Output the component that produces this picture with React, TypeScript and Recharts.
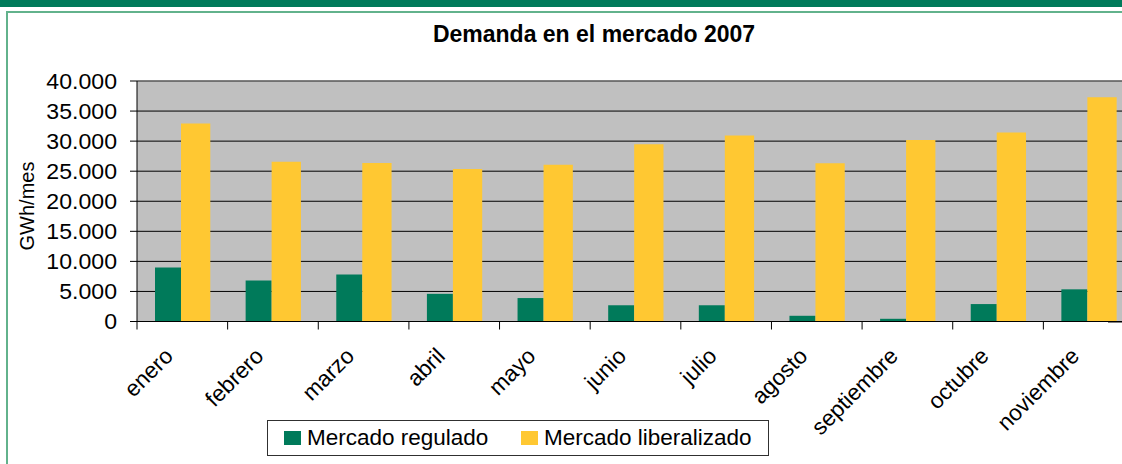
import React from 'react';
import { BarChart, Bar, XAxis, YAxis, CartesianGrid, Legend, ReferenceLine } from 'recharts';

const months = ['enero', 'febrero', 'marzo', 'abril', 'mayo', 'junio', 'julio', 'agosto', 'septiembre', 'octubre', 'noviembre'];
const regulado = [9000, 6800, 7800, 4600, 3900, 2700, 2700, 950, 450, 2900, 5350];
const liberalizado = [32950, 26550, 26350, 25350, 26050, 29500, 30950, 26300, 30200, 31450, 37300];
const yTicks = [0, 5000, 10000, 15000, 20000, 25000, 30000, 35000, 40000];
const seriesNames = ['Mercado regulado', 'Mercado liberalizado'];
const chartTitle = 'Demanda en el mercado 2007';
const yAxisTitle = 'GWh/mes';

const data = months.map((m, i) => ({ month: m, regulado: regulado[i], liberalizado: liberalizado[i] }));

const FONT = '"Liberation Sans", Arial, Helvetica, sans-serif';
const GREEN = '#007A5A';
const YELLOW = '#FFC832';
const LIGHT_GREEN = '#62B28C';
const PLOT_TOP = 81;
const PLOT_H = 240.5;
const Y_MAX = 40000;

const fmt = (v: number) => String(v).replace(/\B(?=(\d{3})+(?!\d))/g, '.');

const YTick = (props: any) => {
  const { x, y, payload } = props;
  return (
    <g transform={`translate(${x},${y}) scale(1.05,1)`}>
      <text x={0} y={0} dy="0.355em" textAnchor="end" fontSize={22} fontFamily={FONT} fill="#000">
        {fmt(payload.value)}
      </text>
    </g>
  );
};

const XTick = (props: any) => {
  const { x, y, payload } = props;
  const half = payload && payload.offset ? payload.offset : 45.3;
  const px = x - 8;
  const py = y + 36;
  return (
    <g>
      <line x1={x - half} x2={x - half} y1={y} y2={y + 8} stroke="#000" strokeWidth={1} />
      <text x={px} y={py} transform={`rotate(-45, ${px}, ${py})`} textAnchor="end" fontSize={22.5} fontFamily={FONT} fill="#000">
        {payload.value}
      </text>
    </g>
  );
};

const LegendBox = (props: any) => {
  const raw = props.payload || [];
  const items = [...raw].sort((a: any, b: any) => seriesNames.indexOf(a.value) - seriesNames.indexOf(b.value));
  const lefts = [16, 253];
  return (
    <div style={{ position: 'relative', width: 502, height: 36, border: '1px solid #303030', boxSizing: 'border-box', background: '#fff' }}>
      {items.map((it: any, i: number) => (
        <div key={i} style={{ position: 'absolute', left: lefts[i], top: 0, height: '100%', display: 'flex', alignItems: 'center' }}>
          <span style={{ display: 'inline-block', width: 17, height: 14, background: it.color, marginRight: 6 }} />
          <span style={{ fontSize: 22.5, fontFamily: FONT, color: '#000', lineHeight: '22px', whiteSpace: 'nowrap' }}>{it.value}</span>
        </div>
      ))}
    </div>
  );
};

const YLabel = () => (
  <text x={27} y={206} transform="rotate(-90, 27, 206)" dy="0.355em" textAnchor="middle" fontSize={20} fontFamily={FONT} fill="#000">
    {yAxisTitle}
  </text>
);

// plot background continuation at the far right edge (sits behind the chart)
const EdgeFill = () => (
  <svg width={14} height={PLOT_H + 2} style={{ position: 'absolute', left: 1108, top: PLOT_TOP - 0.5, display: 'block' }}>
    <rect x={0} y={0.5} width={14} height={PLOT_H} fill="#C0C0C0" />
    {yTicks.map((v) => {
      const yy = 0.5 + ((Y_MAX - v) / Y_MAX) * PLOT_H;
      return <line key={v} x1={0} x2={14} y1={yy} y2={yy} stroke={v === Y_MAX ? '#808080' : '#000'} strokeWidth={1} />;
    })}
  </svg>
);

export default function App() {
  return (
    <div style={{ position: 'absolute', left: 0, top: 0, width: 1122, height: 464, overflow: 'hidden', background: '#fff', fontFamily: FONT }}>
      <style>{`.recharts-wrapper{overflow:visible !important;max-width:none !important}.recharts-surface{overflow:visible !important;max-width:none !important}`}</style>
      <EdgeFill />
      <div style={{ position: 'absolute', left: 0, top: 0, width: 1122, height: 464 }}>
        <BarChart
          width={1122}
          height={464}
          data={data}
          margin={{ top: PLOT_TOP, right: 0, bottom: 0, left: 0 }}
          barGap={0}
        >
          <CartesianGrid vertical={false} stroke="#000" fill="#C0C0C0" fillOpacity={1} />
          <XAxis
            dataKey="month"
            interval={0}
            tickSize={0}
            tickMargin={0}
            tickLine={false}
            height={464 - PLOT_TOP - PLOT_H}
            padding={{ left: 0, right: -12 }}
            axisLine={{ stroke: '#000' }}
            tick={<XTick />}
          />
          <YAxis
            domain={[0, Y_MAX]}
            ticks={yTicks}
            width={137}
            tickSize={7}
            tickMargin={13}
            tickLine={{ stroke: '#000' }}
            axisLine={{ stroke: '#000' }}
            tick={<YTick />}
            interval={0}
            label={{ content: <YLabel /> }}
          />
          <ReferenceLine y={Y_MAX} stroke="#808080" />
          <Bar dataKey="regulado" name={seriesNames[0]} fill={GREEN} barSize={26} isAnimationActive={false} />
          <Bar dataKey="liberalizado" name={seriesNames[1]} fill={YELLOW} barSize={29.3} isAnimationActive={false} />
          <Legend
            layout="horizontal"
            verticalAlign="middle"
            align="center"
            itemSorter={null as any}
            wrapperStyle={{ position: 'absolute', left: 267, top: 420, width: 502, height: 36 }}
            content={<LegendBox />}
          />
        </BarChart>
      </div>
      <div style={{ position: 'absolute', left: 0, top: 0, width: 1122, height: 7, background: GREEN }} />
      <div style={{ position: 'absolute', left: 6, top: 11, width: 1116, height: 2, background: LIGHT_GREEN }} />
      <div style={{ position: 'absolute', left: 6, top: 11, width: 2, height: 453, background: LIGHT_GREEN }} />
      <div
        style={{
          position: 'absolute',
          left: 294,
          top: 23,
          width: 600,
          textAlign: 'center',
          fontSize: 23,
          lineHeight: '23px',
          fontWeight: 'bold',
          fontFamily: FONT,
          color: '#000',
          whiteSpace: 'nowrap',
        }}
      >
        {chartTitle}
      </div>
    </div>
  );
}
